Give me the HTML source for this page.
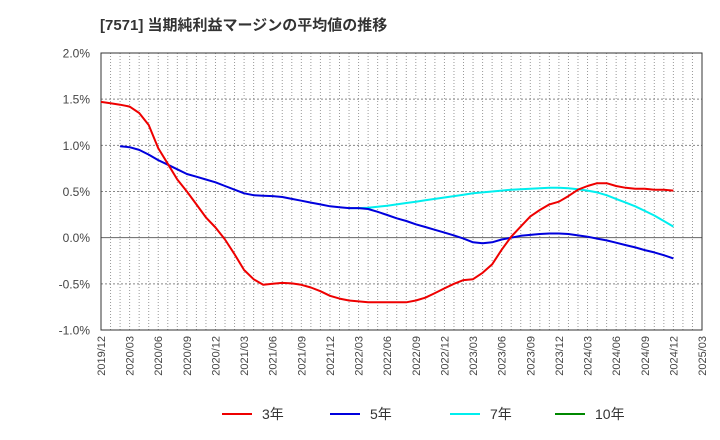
<!DOCTYPE html>
<html><head><meta charset="utf-8"><style>
body{margin:0;background:#fff;}
svg{display:block;font-family:"Liberation Sans","Noto Sans CJK JP",sans-serif;}
</style></head><body>
<svg id="chart" width="720" height="440" viewBox="0 0 720 440" xmlns="http://www.w3.org/2000/svg">
<text x="100" y="30" font-size="15" font-weight="bold" fill="#333">[7571]  当期純利益マージンの平均値の推移</text>
<g id="grid"></g><g id="axes"></g><g id="series"></g>
<g id="legend">
<line x1="222" y1="414" x2="252" y2="414" stroke="#e00" stroke-width="2"/><text x="262" y="419" font-size="14" fill="#333">3年</text>
<line x1="330" y1="414" x2="360" y2="414" stroke="#00d" stroke-width="2"/><text x="370" y="419" font-size="14" fill="#333">5年</text>
<line x1="450" y1="414" x2="480" y2="414" stroke="#0ee" stroke-width="2"/><text x="490" y="419" font-size="14" fill="#333">7年</text>
<line x1="555" y1="414" x2="585" y2="414" stroke="#080" stroke-width="2"/><text x="595" y="419" font-size="14" fill="#333">10年</text>
</g>
</svg>
<script>
const xTickLabels=["2019/12","2020/03","2020/06","2020/09","2020/12","2021/03","2021/06","2021/09","2021/12","2022/03","2022/06","2022/09","2022/12","2023/03","2023/06","2023/09","2023/12","2024/03","2024/06","2024/09","2024/12","2025/03"];
const yTicks=[2.0,1.5,1.0,0.5,0.0,-0.5,-1.0];
const s3Start=0;
const s3=[1.47,1.455,1.44,1.42,1.35,1.22,0.97,0.80,0.63,0.50,0.36,0.22,0.11,-0.02,-0.18,-0.35,-0.45,-0.51,-0.50,-0.49,-0.495,-0.51,-0.54,-0.58,-0.63,-0.66,-0.68,-0.69,-0.70,-0.70,-0.70,-0.70,-0.70,-0.68,-0.65,-0.60,-0.55,-0.50,-0.46,-0.45,-0.38,-0.29,-0.13,0.01,0.12,0.23,0.30,0.36,0.39,0.45,0.52,0.56,0.59,0.59,0.56,0.54,0.53,0.53,0.52,0.52,0.51];
const s5Start=2;
const s5=[0.99,0.98,0.95,0.90,0.84,0.79,0.74,0.69,0.66,0.63,0.60,0.56,0.52,0.48,0.46,0.455,0.45,0.44,0.42,0.40,0.38,0.36,0.34,0.33,0.32,0.32,0.31,0.28,0.245,0.21,0.18,0.145,0.115,0.085,0.055,0.025,-0.01,-0.05,-0.06,-0.05,-0.02,0.0,0.02,0.03,0.04,0.045,0.045,0.04,0.025,0.01,-0.01,-0.03,-0.055,-0.08,-0.105,-0.135,-0.16,-0.19,-0.225];
const s7Start=26;
const s7=[0.32,0.32,0.325,0.335,0.345,0.36,0.375,0.39,0.405,0.42,0.435,0.45,0.465,0.48,0.49,0.50,0.51,0.52,0.525,0.53,0.535,0.54,0.54,0.535,0.525,0.51,0.49,0.46,0.42,0.38,0.34,0.29,0.24,0.18,0.12];
const NS="http://www.w3.org/2000/svg";
const L=101,R=702,T=53,B=330,months=63;
const xm=m=>L+(R-L)*m/months;
const yv=v=>T+(2.0-v)/3.0*(B-T);
function mk(tag,at,parent){const e=document.createElementNS(NS,tag);for(const k in at)e.setAttribute(k,at[k]);document.getElementById(parent).appendChild(e);return e;}
for(let m=1;m<months;m++){
 const e=mk('line',{x1:xm(m),y1:T,x2:xm(m),y2:B,stroke:'#999','stroke-width':1,'stroke-dasharray':'1,2'},'grid');
 
 
}
yTicks.forEach(v=>{
 const y=yv(v);
 if(v!==2.0&&v!==-1.0){
  const e=mk('line',{x1:L,y1:y,x2:R,y2:y,stroke:v===0?'#666':'#888','stroke-width':1,'stroke-dasharray':v===0?'none':'2,2'},'grid');
  
  
 }
 const t=mk('text',{x:90,y:y+4.5,'text-anchor':'end','font-size':12,fill:'#444'},'axes');
 t.textContent=v.toFixed(1)+'%';
 
 
});
const frame=mk('rect',{x:L,y:T,width:R-L,height:B-T,fill:'none',stroke:'#333','stroke-width':1},'axes');


xTickLabels.forEach((lab,i)=>{
 const x=xm(i*3);
 const t=mk('text',{x:0,y:0,'text-anchor':'end','font-size':11,fill:'#444',transform:`translate(${x+4},336) rotate(-90)`},'axes');
 t.textContent=lab;
 
 
});
function series(data,start,color,name){
 const pts=data.map((v,i)=>xm(start+i).toFixed(1)+','+yv(v).toFixed(1)).join(' ');
 const p=mk('polyline',{points:pts,fill:'none',stroke:color,'stroke-width':2,'stroke-linejoin':'round'},'series');
 
 
}
series(s7,s7Start,'#0ee','series-7yr');
series(s5,s5Start,'#00d','series-5yr');
series(s3,s3Start,'#e00','series-3yr');
</script>
</body></html>
